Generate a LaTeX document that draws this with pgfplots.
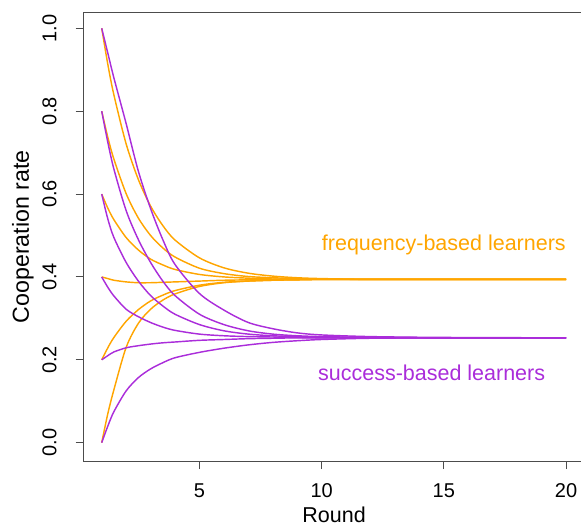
\documentclass[border=0pt]{standalone}
\usepackage{pgfplots}
\pgfplotsset{compat=1.18}
\usepackage{pgfplotstable}
\usepackage{fontspec}
\setmainfont{Liberation Sans}
\definecolor{freq}{HTML}{FFA500}
\definecolor{succ}{RGB}{170,45,218}

\pgfplotstableread{
x o0 o2 o4 o6 o8 o10
1 0.000 0.200 0.400 0.600 0.800 1.000
1.25 0.070 0.229 0.396 0.566 0.737 0.913
1.5 0.128 0.254 0.392 0.538 0.684 0.839
2 0.230 0.293 0.388 0.495 0.601 0.721
2.5 0.288 0.321 0.386 0.465 0.542 0.635
3 0.322 0.342 0.386 0.443 0.500 0.571
3.5 0.344 0.356 0.387 0.429 0.470 0.524
4 0.359 0.367 0.388 0.418 0.448 0.489
5 0.377 0.380 0.390 0.406 0.421 0.446
6 0.386 0.387 0.392 0.400 0.408 0.422
7 0.390 0.390 0.393 0.397 0.401 0.409
8 0.392 0.392 0.394 0.395 0.398 0.402
9 0.393 0.393 0.394 0.394 0.396 0.398
10 0.394 0.394 0.394 0.394 0.395 0.396
12 0.394 0.394 0.394 0.394 0.394 0.394
15 0.394 0.394 0.394 0.394 0.394 0.394
20 0.394 0.394 0.394 0.394 0.394 0.394
}\orangetab

\pgfplotstableread{
x p0 p2 p4 p6 p8 p10
1 0.000 0.200 0.400 0.600 0.800 1.000
1.25 0.040 0.210 0.375 0.540 0.725 0.940
1.5 0.075 0.219 0.354 0.495 0.660 0.880
2 0.125 0.229 0.322 0.435 0.560 0.770
2.5 0.157 0.234 0.304 0.390 0.490 0.655
3 0.178 0.238 0.290 0.355 0.435 0.565
3.5 0.193 0.241 0.279 0.330 0.390 0.490
4 0.205 0.243 0.271 0.310 0.355 0.430
5 0.218 0.247 0.262 0.285 0.310 0.360
6 0.228 0.249 0.258 0.270 0.285 0.320
7 0.236 0.251 0.256 0.262 0.270 0.290
8 0.242 0.252 0.255 0.258 0.262 0.275
9 0.246 0.253 0.254 0.256 0.258 0.265
10 0.249 0.253 0.253 0.255 0.256 0.260
12 0.252 0.253 0.253 0.254 0.254 0.256
15 0.253 0.253 0.253 0.253 0.253 0.254
20 0.253 0.253 0.253 0.253 0.253 0.253
}\purpletab

\begin{document}
\begin{tikzpicture}
\begin{axis}[
  at={(41.75pt,34.5pt)}, anchor=south west,
  scale only axis, width=250.55pt, height=224.25pt,
  xmin=0.255, xmax=20.76, ymin=-0.0442, ymax=1.0381,
  axis line style={black!70, line width=0.5pt},
  tick style={black!70, line width=0.5pt},
  tick align=outside, major tick length=4pt,
  xtick={5,10,15,20}, ytick={0,0.2,0.4,0.6,0.8,1},
  xtick pos=bottom, ytick pos=left,
  /pgf/number format/assume math mode=true,
  ticklabel style={font=\fontsize{10}{12}\selectfont, inner sep=0pt},
  xticklabel style={anchor=north},
  yticklabel style={/pgf/number format/.cd, fixed, fixed zerofill, precision=1, /tikz/.cd, rotate=90, anchor=south},
  xticklabel shift=7pt, yticklabel shift=9.25pt,
  xlabel={Round}, ylabel={Cooperation rate},
  xlabel style={at={(axis description cs:0.5,0)}, anchor=base, yshift=-30.5pt, inner sep=0pt, font=\fontsize{10.75}{13}\selectfont},
  ylabel style={at={(axis description cs:-0.1088,0.5)}, anchor=base, inner sep=0pt, font=\fontsize{11.6}{14}\selectfont},
  every axis plot/.append style={line width=0.72pt, smooth, no markers},
]
\addplot[freq] table[x=x,y=o0] {\orangetab};
\addplot[freq] table[x=x,y=o2] {\orangetab};
\addplot[freq] table[x=x,y=o4] {\orangetab};
\addplot[freq] table[x=x,y=o6] {\orangetab};
\addplot[freq] table[x=x,y=o8] {\orangetab};
\addplot[freq] table[x=x,y=o10] {\orangetab};
\addplot[succ] table[x=x,y=p0] {\purpletab};
\addplot[succ] table[x=x,y=p2] {\purpletab};
\addplot[succ] table[x=x,y=p4] {\purpletab};
\addplot[succ] table[x=x,y=p6] {\purpletab};
\addplot[succ] table[x=x,y=p8] {\purpletab};
\addplot[succ] table[x=x,y=p10] {\purpletab};
\node[anchor=base, text=freq, font=\fontsize{10.75}{13}\selectfont] at (axis cs:15,0.4626) {frequency-based learners};
\node[anchor=base, text=succ, font=\fontsize{10.75}{13}\selectfont] at (axis cs:14.5,0.1496) {success-based learners};
\end{axis}
\pgfresetboundingbox
\path[use as bounding box] (0,0) rectangle (290.5pt,265pt);
\end{tikzpicture}
\end{document}
